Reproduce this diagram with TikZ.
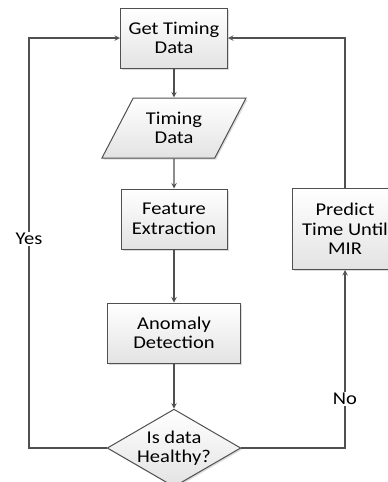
\documentclass[tikz,border=0pt]{standalone}
\usepackage{fontspec}
\setmainfont{Carlito}[FakeStretch=1.14]
\usetikzlibrary{shapes.geometric,shadows}
\definecolor{linegray}{HTML}{505050}
\begin{document}
\begin{tikzpicture}[x=1pt, y=-1pt, >=stealth,
    font=\fontsize{18}{19.5}\selectfont,
    procbox/.style={rectangle, draw=linegray, line width=1pt, top color=white, bottom color=gray!22,
        drop shadow={shadow xshift=1.5pt, shadow yshift=-1.5pt, fill=gray!55},
        align=center, inner sep=2pt},
    databox/.style={trapezium, trapezium left angle=56, trapezium right angle=124,
        trapezium stretches=true, draw=linegray, line width=1pt, top color=white, bottom color=gray!22,
        drop shadow={shadow xshift=1.5pt, shadow yshift=-1.5pt, fill=gray!55},
        align=center, inner sep=0pt, minimum width=145pt, minimum height=60pt},
    decision/.style={diamond, aspect=1.72, draw=linegray, line width=1pt, top color=white, bottom color=gray!22,
        drop shadow={shadow xshift=1.5pt, shadow yshift=-1.5pt, fill=gray!55},
        align=center, inner sep=0pt, minimum width=131pt, minimum height=76pt},
    flow/.style={->, draw=linegray, line width=1.4pt},
    branch/.style={fill=white, inner sep=1pt}]

    \useasboundingbox (0,0) rectangle (388,482);

    % Main column
    \node[procbox, minimum width=107pt, minimum height=60pt] (get) at (174, 38) {Get Timing\\Data};
    \node[databox] (tdata) at (174, 128) {Timing\\Data};
    \node[procbox, minimum width=106pt, minimum height=60pt] (feat) at (174, 219) {Feature\\Extraction};
    \node[procbox, minimum width=133pt, minimum height=60pt] (anom) at (174, 333) {Anomaly\\Detection};
    \node[decision] (health) at (174, 448) {Is data\\Healthy?};

    % Prediction branch
    \node[procbox, minimum width=106pt, minimum height=81pt] (pred) at (345, 229) {Predict\\Time Until\\MIR};

    % Loop corners
    \coordinate (yesbot) at (29, 448);
    \coordinate (yestop) at (29, 38);
    \coordinate (nobot) at (345, 448);
    \coordinate (notop) at (345, 38);

    % Connections
    \draw[flow] (get) -- (tdata);
    \draw[flow] (tdata) -- (feat);
    \draw[flow] (feat) -- (anom);
    \draw[flow] (anom) -- (health);

    \draw[flow] (health.west) -- (yesbot) -- (yestop) -- (get.west);
    \draw[flow] (health.east) -- (nobot) -- (pred.south);
    \draw[flow] (pred.north) -- (notop) -- (get.east);

    \node[branch] (yes) at (29, 239) {Yes};
    \node[branch] (no) at (345, 399) {No};

\end{tikzpicture}
\end{document}
